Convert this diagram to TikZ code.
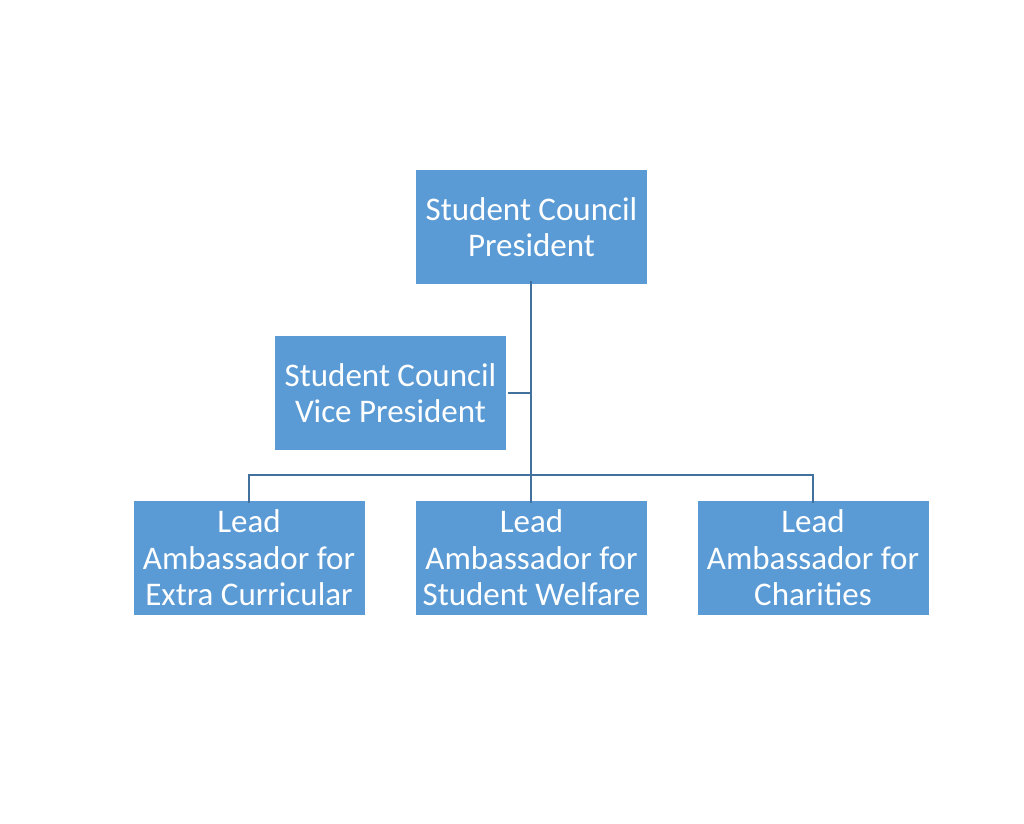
\documentclass[tikz,border=0pt]{standalone}
\usepackage{fontspec}
\setmainfont{Carlito}
\definecolor{boxfill}{HTML}{5B9BD5}
\definecolor{linecol}{HTML}{41719C}
\begin{document}
\begin{tikzpicture}[x=1pt,y=-1pt,
  orgbox/.style={fill=boxfill, draw=none, minimum width=231pt, minimum height=114pt,
    inner sep=0pt, text=white, align=center,
    font=\fontsize{33}{36.5}\selectfont},
  conn/.style={draw=linecol, line width=2pt}]
\useasboundingbox (0,0) rectangle (1024,823);
\fill[white] (0,0) rectangle (1024,823);
\node[orgbox] (pres) at (531.5,227) {Student Council\\President};
\node[orgbox] (vp) at (390.5,393) {Student Council\\Vice President};
\node[orgbox] (extra) at (249,558) {Lead\\Ambassador for\\Extra Curricular};
\node[orgbox] (welfare) at (531.5,558) {Lead\\Ambassador for\\Student Welfare};
\node[orgbox] (char) at (813,558) {Lead\\Ambassador for\\Charities};
\coordinate (hub) at (531,475);
\coordinate (vpj) at (531,393);
\draw[conn] ([yshift=3pt]pres.south -| hub) -- (hub);
\draw[conn] ([xshift=2pt]vp.east) -- (vpj);
\draw[conn] ([yshift=-2pt]extra.north) |- (hub) -| ([yshift=-2pt]char.north);
\draw[conn] (hub) -- ([yshift=-2pt]welfare.north -| hub);
\end{tikzpicture}
\end{document}
